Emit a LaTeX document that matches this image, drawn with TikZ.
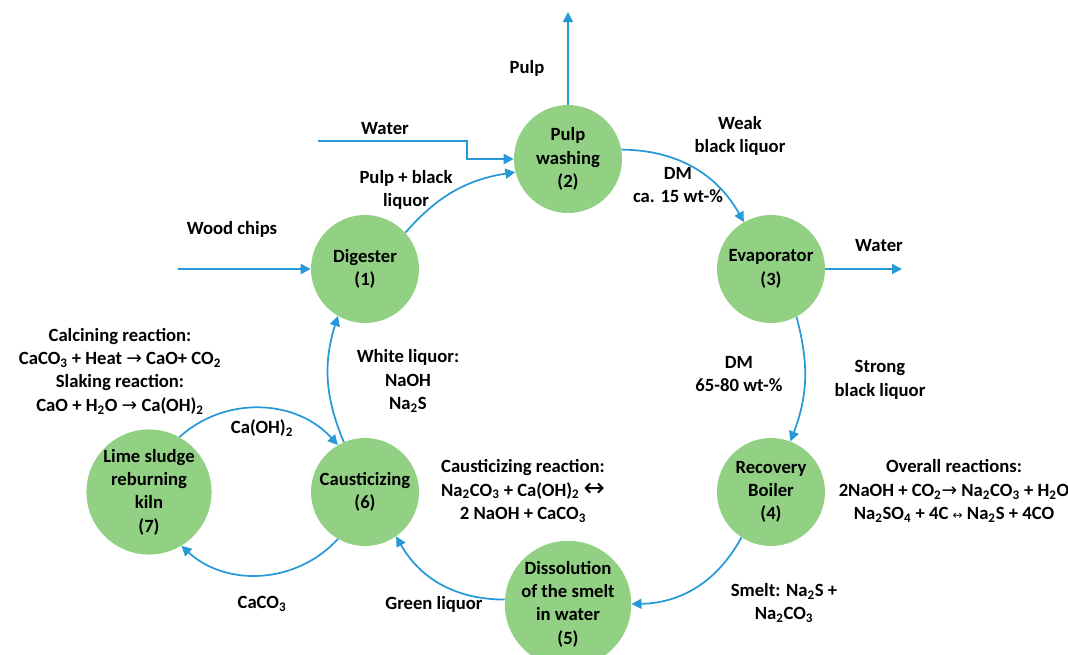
\documentclass[tikz,border=0pt]{standalone}
\usepackage{fontspec}
\setmainfont{Carlito}
\newfontfamily\arrowfont{DejaVu Sans}
\usetikzlibrary{arrows.meta, positioning}
\definecolor{processGreen}{RGB}{146, 208, 132}
\definecolor{flowBlue}{RGB}{38, 153, 214}
\newcommand{\chemto}{{\arrowfont\mdseries →}}
\newcommand{\chemeq}{{\arrowfont\mdseries ↔}}

\begin{document}
\begin{tikzpicture}[
        x=1pt, y=1pt,
        proc/.style={circle, fill=processGreen, minimum size=81pt, inner sep=0pt, align=center, font=\bfseries\fontsize{14}{17.5}\selectfont},
        lbl/.style={align=center, font=\bfseries\fontsize{14}{17.5}\selectfont, inner sep=1pt},
        flow/.style={-{Triangle[width=7.5pt,length=7.5pt]}, line width=1.3pt, flowBlue}
    ]
        \useasboundingbox (0,0) rectangle (801,-490.5);

        % Process steps
        \node[proc] (wash) at (426,-119.25) {Pulp\\washing\\(2)};
        \node[proc, on grid, below left=82.5pt and 152.25pt of wash] (dig) {Digester\\(1)};
        \node[proc, on grid, below right=82.5pt and 152.25pt of wash] (evap) {Evaporator\\(3)};
        \node[proc, on grid, below=167.25pt of dig] (caust) {Causticizing\\(6)};
        \node[proc, on grid, below=167.25pt of evap] (boiler) {Recovery\\Boiler\\(4)};
        \node[proc, on grid, below=333.75pt of wash] (dissol) {Dissolution\\of the smelt\\in water\\(5)};
        \node[proc, on grid, left=162pt of caust] (kiln) {Lime sludge\\reburning\\kiln\\(7)};

        % Inputs and outputs
        \coordinate (chipsin) at (133.5,-201.75);
        \coordinate (waterin) at (238.5,-105.75);
        \coordinate (waterbend) at (350.25,-105.75);
        \coordinate (pulpout) at (426,-9);
        \coordinate (waterout) at (676.5,-201.75);

        % Labels
        \node[lbl] (chipslbl) at (174,-171.75) {Wood chips};
        \node[lbl] (waterinlbl) at (288.75,-96.75) {Water};
        \node[lbl] (pulplbl) at (395.25,-51) {Pulp};
        \node[lbl] (digwashlbl) at (304.5,-142.5) {Pulp + black\\liquor};
        \node[lbl] (weaklbl) at (555,-102) {Weak\\black liquor};
        \node[lbl] (weakdm) at (508.5,-138.75) {DM\\ca. 15 wt-\%};
        \node[lbl] (wateroutlbl) at (659.25,-184.5) {Water};
        \node[lbl] (strongdm) at (554.25,-280.5) {DM\\65-80 wt-\%};
        \node[lbl] (stronglbl) at (660,-285) {Strong\\black liquor};
        \node[lbl] (boilerrx) at (715.5,-368.25) {Overall reactions:\\2NaOH + CO\textsubscript{2}\chemto{} Na\textsubscript{2}CO\textsubscript{3} + H\textsubscript{2}O\\Na\textsubscript{2}SO\textsubscript{4} + 4C {\small\chemeq} Na\textsubscript{2}S + 4CO};
        \node[lbl] (smeltlbl) at (588,-452.25) {Smelt: Na\textsubscript{2}S +\\Na\textsubscript{2}CO\textsubscript{3}};
        \node[lbl] (caustrx) at (392.25,-368.25) {Causticizing reaction:\\Na\textsubscript{2}CO\textsubscript{3} + Ca(OH)\textsubscript{2} {\fontsize{19}{17.5}\selectfont\chemeq}\\2 NaOH + CaCO\textsubscript{3}};
        \node[lbl] (greenlbl) at (325.5,-453) {Green liquor};
        \node[lbl] (caco3lbl) at (196.5,-453) {CaCO\textsubscript{3}};
        \node[lbl] (caohlbl) at (196.5,-321) {Ca(OH)\textsubscript{2}};
        \node[lbl] (whitelbl) at (306,-285.75) {White liquor:\\NaOH\\Na\textsubscript{2}S};
        \node[lbl] (kilnrx) at (90,-278.25) {Calcining reaction:\\CaCO\textsubscript{3} + Heat \chemto{} CaO+ CO\textsubscript{2}\\Slaking reaction:\\CaO + H\textsubscript{2}O \chemto{} Ca(OH)\textsubscript{2}};

        % Flows
        \draw[flow] (chipsin) -- (dig.west);
        \draw[flow] (waterin) -- (waterbend) |- (wash.west);
        \draw[flow] (wash.north) -- (pulpout);
        \draw[flow] (evap.east) -- (waterout);
        \draw[flow] (dig.42) to[bend left=20] (wash.194);
        \draw[flow] (wash.10) to[bend left=30] (evap.120);
        \draw[flow] (evap.-62) to[bend left=18] (boiler.69);
        \draw[flow] (boiler.237) to[bend left=30] (dissol.east);
        \draw[flow] (dissol.176) to[bend left=30] (caust.-55);
        \draw[flow] (caust.113) to[bend left=20] (dig.240);
        \draw[flow] (kiln.61) to[bend left=45] (caust.120);
        \draw[flow] (caust.240) to[bend left=45] (kiln.301);
    \end{tikzpicture}
\end{document}
